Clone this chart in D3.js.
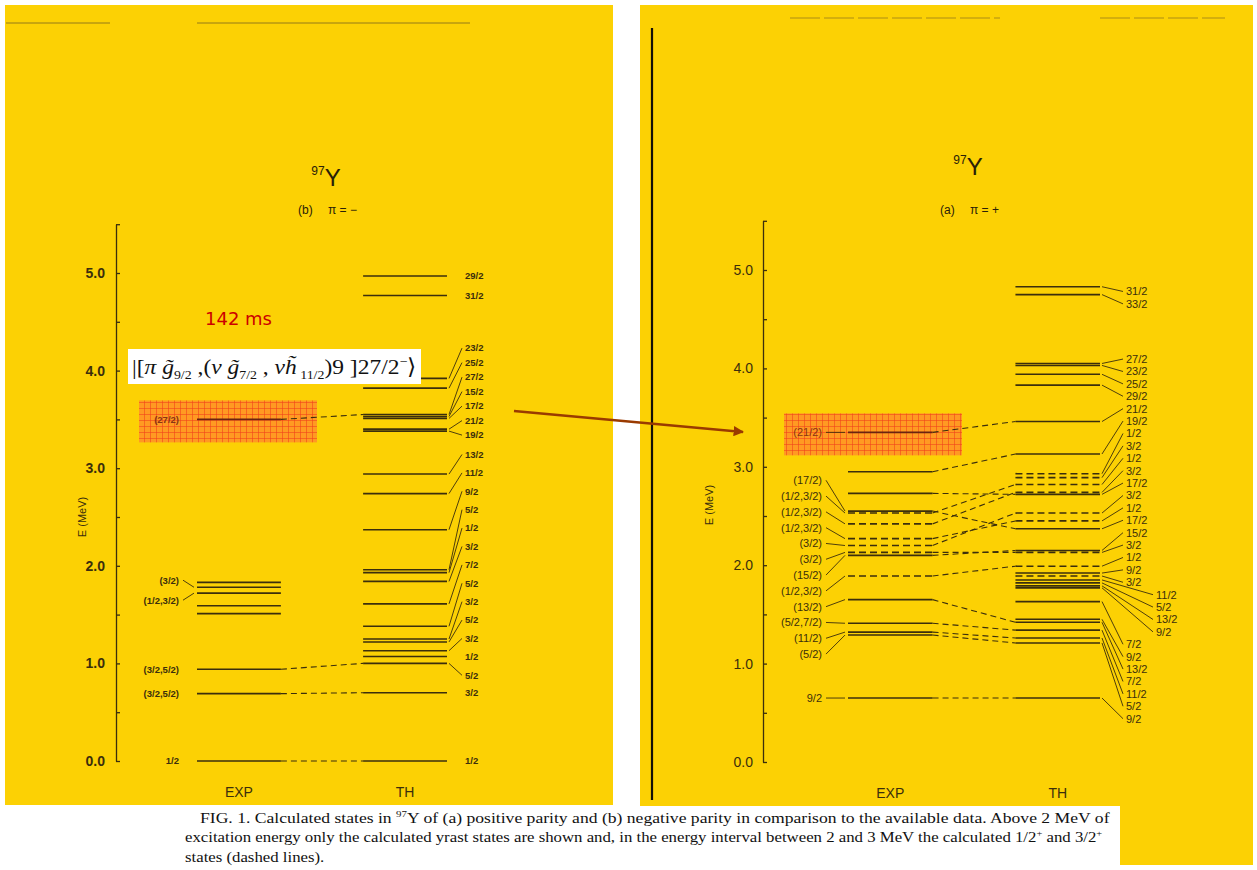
<!DOCTYPE html>
<html>
<head>
<meta charset="utf-8">
<script src="https://cdn.jsdelivr.net/npm/d3@7"></script>
<style>
body { margin: 0; background: #fff; }
svg { display: block; }
.axis path, .axis line { stroke: #3b2e0c; stroke-width: 1.3; }
.axis text { fill: #3b2e0c; font-family: "Liberation Sans", Arial, sans-serif; }
.lvl { stroke: #3b2e0c; stroke-width: 1.6; fill: none; }
.link { stroke: #3b2e0c; stroke-width: 1.1; fill: none; stroke-dasharray: 6,4; }
.lead { stroke: #3b2e0c; stroke-width: 0.9; fill: none; }
.tag { fill: #3b2e0c; font-family: "Liberation Sans", Arial, sans-serif; }
</style>
</head>
<body>
<svg id="chart" width="1257" height="870"></svg>
<script>
// (b) negative parity, energies in MeV
let negExpE = [0, 0.69, 0.94, 1.51, 1.59, 1.72, 1.78, 1.83, 3.50];
let negExpJ = ["1/2", "(3/2,5/2)", "(3/2,5/2)", "", "", "(1/2,3/2)", "(3/2)", "", "(27/2)"];
let negThE = [0, 0.70, 1.00, 1.07, 1.13, 1.22, 1.25, 1.38, 1.61, 1.84, 1.93, 1.96, 2.37, 2.74, 2.94,
              3.38, 3.40, 3.51, 3.53, 3.55, 3.82, 3.92, 4.77, 4.97];
let negThJ = ["1/2", "3/2", "5/2", "1/2", "3/2", "5/2", "3/2", "5/2", "7/2", "3/2", "1/2", "5/2", "9/2", "11/2", "13/2",
              "19/2", "21/2", "17/2", "15/2", "27/2", "25/2", "23/2", "31/2", "29/2"];
let negLinks = [[0, 0], [1, 1], [2, 2], [8, 19]];

// (a) positive parity
let posExpE = [0.65, 1.29, 1.32, 1.41, 1.65, 1.89, 2.10, 2.13, 2.20, 2.27, 2.42, 2.53, 2.55, 2.73, 2.95, 3.35];
let posExpJ = ["9/2", "(5/2)", "(11/2)", "(5/2,7/2)", "(13/2)", "(1/2,3/2)", "(15/2)", "(3/2)", "(3/2)",
               "(1/2,3/2)", "(1/2,3/2)", "(1/2,3/2)", "(17/2)", "", "", "(21/2)"];
let posThE = [0.65, 1.21, 1.26, 1.34, 1.42, 1.45, 1.63, 1.77, 1.79, 1.82, 1.85, 1.89, 1.92, 1.99, 2.13, 2.15,
              2.37, 2.45, 2.53, 2.72, 2.74, 2.82, 2.89, 2.93, 3.13, 3.46, 3.83, 3.94, 4.03, 4.05, 4.75, 4.83];
let posThJ = ["9/2", "5/2", "11/2", "7/2", "13/2", "9/2", "7/2", "9/2", "13/2", "5/2", "11/2", "3/2", "9/2", "1/2",
              "3/2", "15/2", "17/2", "1/2", "3/2", "17/2", "3/2", "1/2", "3/2", "1/2", "19/2", "21/2", "29/2",
              "25/2", "23/2", "27/2", "33/2", "31/2"];
let posLinks = [[0, 0], [1, 1], [2, 2], [3, 3], [4, 4], [5, 13], [6, 15], [7, 14], [8, 18], [9, 17],
                [10, 20], [11, 21], [12, 16], [13, 19], [14, 24], [15, 25]];

let columns = ["EXP", "TH"];
let energyTicks = [0, 0.5, 1, 1.5, 2, 2.5, 3, 3.5, 4, 4.5, 5, 5.5];

let captionLines = [
    ["FIG. 1. Calculated states in ", ["97", "sup"], "Y of (a) positive parity and (b) negative parity in comparison to the available data. Above 2 MeV of"],
    ["excitation energy only the calculated yrast states are shown and, in the energy interval between 2 and 3 MeV the calculated 1/2", ["+", "sup"], " and 3/2", ["+", "sup"]],
    ["states (dashed lines)."]
];

const ink = "#3b2e0c",
    yellow = "#FCD104";

let svg = d3.select("#chart");

let defs = svg.append("defs");
let pat = defs.append("pattern")
    .attr("id", "grid")
    .attr("width", 6).attr("height", 6)
    .attr("patternUnits", "userSpaceOnUse");
pat.append("rect").attr("width", 6).attr("height", 6).attr("fill", "#FF9A22");
pat.append("path").attr("d", "M0,0.3H6M0.3,0V6").attr("stroke", "#F03E1A").attr("stroke-width", 0.7);
defs.append("marker")
    .attr("id", "head")
    .attr("viewBox", "0 0 10 10")
    .attr("refX", 9).attr("refY", 5)
    .attr("markerWidth", 4).attr("markerHeight", 4)
    .attr("orient", "auto")
    .append("path").attr("d", "M0,0L10,5L0,10z").attr("fill", "#9A3A00");

// page backgrounds
svg.append("rect").attr("x", 5).attr("y", 5).attr("width", 608).attr("height", 800).attr("fill", yellow);
svg.append("rect").attr("x", 640).attr("y", 5).attr("width", 613).attr("height", 860).attr("fill", yellow);

// scan marks
svg.append("path").attr("d", "M652,28V800").attr("stroke", "#141008").attr("stroke-width", 2.2);
svg.append("path").attr("d", "M6,23H110M197,23H470").attr("stroke", "#7a6420").attr("stroke-width", 0.8);
svg.append("path").attr("d", "M790,18H1000M1100,18H1225").attr("stroke", "#8a7020").attr("stroke-width", 0.7)
    .attr("stroke-dasharray", "30,4");

function lowSpin(j) {
    let s = j.replace(/[()]/g, "").split(",");
    return j !== "" && s.every(v => v === "1/2" || v === "3/2");
}

// spread overlapping labels; anchor 0 centres a cluster on its targets, 1 pins it to its lowest one
function dodge(items, gap, anchor, shift) {
    let clusters = [];
    let place = c => {
        let n = c.items.length,
            centred = c.sum / n - (n - 1) * gap / 2,
            pinned = c.items[n - 1].y - (n - 1) * gap;
        c.top = (1 - anchor) * centred + anchor * pinned;
    };
    items.forEach(t => {
        clusters.push({items: [t], sum: t.y, top: t.y});
        while(clusters.length > 1) {
            let a = clusters[clusters.length - 2],
                b = clusters[clusters.length - 1];
            if(a.top + a.items.length * gap <= b.top) break;
            a.items = a.items.concat(b.items);
            a.sum += b.sum;
            place(a);
            clusters.pop();
        }
    });
    clusters.forEach(c => {
        c.items.forEach((t, i) => {
            t.tagY = c.top + i * gap + (c.items.length > 1 ? shift : 0);
        });
    });
}

let panels = [
    {expE: negExpE, expJ: negExpJ, thE: negThE, thJ: negThJ, links: negLinks,
     y0: 761, y5: 273, axisX: 116, xRange: [197, 447], tickPad: 11, bold: true,
     expTagX: 179, thTagX: 465, outerTagX: 0, outer: [], tagSize: 9.5,
     expGap: 20, thBands: [{below: 3.2, gap: 18.4, anchor: 0.75, shift: 2}, {below: 9, gap: 14.5, anchor: 1, shift: 4}],
     leadAlways: false, dashLow: false,
     titleX: 326, titleY: 186, part: "(b)", parity: "\u03c0 = \u2212", labelX: 86, labelY: 517,
     hiIndex: 8, hiX: [139, 317], foot: 797},
    {expE: posExpE, expJ: posExpJ, thE: posThE, thJ: posThJ, links: posLinks,
     y0: 762, y5: 270, axisX: 763, xRange: [848, 1100], tickPad: 10, bold: false,
     expTagX: 822, thTagX: 1126, outerTagX: 1156, outer: [7, 8, 9, 10], tagSize: 11,
     expGap: 15.8, thBands: [{below: 9, gap: 12.4, anchor: 0, shift: 7}],
     leadAlways: true, dashLow: true,
     titleX: 968, titleY: 175, part: "(a)", parity: "\u03c0 = +", labelX: 713, labelY: 505,
     hiIndex: 15, hiX: [784, 962], foot: 798}
];

function drawPanel(p) {
    let g = svg.append("g");

    let y = d3.scaleLinear().domain([0, 5]).range([p.y0, p.y5]);
    let x = d3.scaleBand().domain(columns).range(p.xRange).paddingInner(0.495);
    let axisScale = y.copy().domain([0, 5.5]).range([y(0), y(5.5)]);

    let exp = p.expE.map((e, i) => ({e: e, j: p.expJ[i], y: y(e), i: i})),
        th = p.thE.map((e, i) => ({e: e, j: p.thJ[i], y: y(e), i: i}));

    // highlighted isomer, under the levels
    let hy = exp[p.hiIndex].y;
    g.append("rect")
        .attr("x", p.hiX[0]).attr("y", hy - 19)
        .attr("width", p.hiX[1] - p.hiX[0]).attr("height", 42)
        .attr("fill", "url(#grid)");

    let ax = g.append("g")
        .attr("class", "axis")
        .attr("transform", "translate(" + p.axisX + ",0)")
        .call(d3.axisLeft(axisScale)
            .tickValues(energyTicks)
            .tickSizeInner(-4)
            .tickSizeOuter(0)
            .tickPadding(p.tickPad)
            .tickFormat(d => d.toFixed(1)));
    ax.selectAll(".tick text")
        .filter(d => d % 1 !== 0)
        .remove();
    ax.selectAll("text")
        .attr("font-size", 14)
        .attr("font-weight", p.bold ? "bold" : "normal");

    g.append("text")
        .attr("transform", "translate(" + p.labelX + "," + p.labelY + ") rotate(-90)")
        .attr("text-anchor", "middle")
        .attr("font-family", "Liberation Sans, Arial, sans-serif")
        .attr("font-size", 11)
        .attr("fill", ink)
        .text("E (MeV)");

    // titles
    let t = g.append("text")
        .attr("x", p.titleX).attr("y", p.titleY)
        .attr("text-anchor", "middle")
        .attr("font-family", "Liberation Sans, Arial, sans-serif")
        .attr("fill", "#2a2008");
    t.append("tspan").attr("font-size", 12).attr("dy", -11).text("97");
    t.append("tspan").attr("font-size", 24).attr("dy", 11).text("Y");
    g.append("text")
        .attr("x", p.titleX - 28).attr("y", 214)
        .attr("font-family", "Liberation Sans, Arial, sans-serif")
        .attr("font-size", 12).attr("fill", "#2a2008")
        .text(p.part);
    g.append("text")
        .attr("x", p.titleX + 2).attr("y", 214)
        .attr("font-family", "Liberation Sans, Arial, sans-serif")
        .attr("font-size", 12).attr("fill", "#2a2008")
        .text(p.parity);

    g.selectAll(".foot")
        .data(columns)
        .enter()
        .append("text")
        .attr("x", d => x(d) + x.bandwidth() / 2)
        .attr("y", p.foot)
        .attr("text-anchor", "middle")
        .attr("font-family", "Liberation Sans, Arial, sans-serif")
        .attr("font-size", 14)
        .attr("fill", ink)
        .text(d => d);

    let dashed = d => p.dashLow && lowSpin(d.j) && d.e >= 1.85 && d.e <= 3;

    let xe0 = x("EXP"), xe1 = xe0 + x.bandwidth(),
        xt0 = x("TH"), xt1 = xt0 + x.bandwidth();

    // connecting lines
    g.selectAll(".link")
        .data(p.links)
        .enter()
        .append("path")
        .attr("class", "link")
        .attr("d", d => "M" + xe1 + "," + exp[d[0]].y + "L" + xt0 + "," + th[d[1]].y);

    g.selectAll(".lvlE")
        .data(exp)
        .enter()
        .append("path")
        .attr("class", "lvl")
        .style("stroke", d => d.i === p.hiIndex ? "#6a2410" : null)
        .attr("d", d => "M" + xe0 + "," + d.y + "H" + xe1)
        .attr("stroke-dasharray", d => dashed(d) ? "7,4" : null);

    g.selectAll(".lvlT")
        .data(th)
        .enter()
        .append("path")
        .attr("class", "lvl")
        .attr("d", d => "M" + xt0 + "," + d.y + "H" + xt1)
        .attr("stroke-dasharray", d => dashed(d) ? "7,4" : null);

    // experimental spin labels
    let expTags = exp.filter(d => d.j).sort((a, b) => a.y - b.y);
    dodge(expTags, p.expGap, 0, 0);
    expTags.forEach(d => {
        if(p.leadAlways || Math.abs(d.tagY - d.y) > 1) {
            g.append("path")
                .attr("class", "lead")
                .attr("d", "M" + (p.expTagX + 4) + "," + d.tagY + "L" + (xe0 - 3) + "," + d.y);
        }
        g.append("text")
            .attr("class", "tag")
            .attr("x", p.expTagX).attr("y", d.tagY)
            .attr("dy", "0.35em")
            .attr("text-anchor", "end")
            .attr("font-size", p.tagSize)
            .attr("font-weight", p.bold ? "bold" : "normal")
            .style("fill", d.i === p.hiIndex ? "#8a3414" : null)
            .text(d.j);
    });

    // calculated spin labels
    let thTags = th.filter(d => d.j).sort((a, b) => a.y - b.y);
    let lo = -Infinity;
    p.thBands.forEach(b => {
        let part = thTags.filter(d => d.e >= lo && d.e < b.below);
        dodge(part, b.gap, b.anchor, b.shift);
        lo = b.below;
    });
    thTags.forEach(d => {
        let tx = p.outer.includes(d.i) ? p.outerTagX : p.thTagX;
        if(p.leadAlways || Math.abs(d.tagY - d.y) > 1) {
            g.append("path")
                .attr("class", "lead")
                .attr("d", "M" + (xt1 + 2) + "," + d.y + "L" + (tx - 3) + "," + d.tagY);
        }
        g.append("text")
            .attr("class", "tag")
            .attr("x", tx).attr("y", d.tagY)
            .attr("dy", "0.35em")
            .attr("font-size", p.tagSize)
            .attr("font-weight", p.bold ? "bold" : "normal")
            .text(d.j);
    });

    return y;
}

panels.forEach(drawPanel);

// annotation: isomer and configuration
svg.append("text")
    .attr("x", 205).attr("y", 325)
    .attr("font-family", "DejaVu Sans, sans-serif")
    .attr("font-size", 18)
    .attr("fill", "#CC0000")
    .text("142 ms");

svg.append("rect")
    .attr("x", 128).attr("y", 349)
    .attr("width", 293).attr("height", 35)
    .attr("fill", "#fff");

let formula = [
    ["|[", ""], ["\u03c0", "i"], [" g\u0303", "i"], ["9/2", "sub"], [" ,(", ""], ["\u03bd", "i"],
    [" g\u0303", "i"], ["7/2", "sub"], [" , ", ""], ["\u03bd", "i"], ["h\u0303", "i"], [" 11/2", "sub"],
    [")9 ]27/2", ""], ["\u2212", "sup"], ["\u27e9", ""]
];
let ft = svg.append("text")
    .attr("font-family", "Liberation Serif, Times New Roman, serif")
    .attr("font-size", 22)
    .attr("fill", "#111");
let shiftNow = 0;
formula.forEach(f => {
    let target = f[1] === "sub" ? 5 : f[1] === "sup" ? -8 : 0;
    ft.append("tspan")
        .attr("dy", target - shiftNow)
        .attr("font-size", f[1] === "sub" || f[1] === "sup" ? 13 : 22)
        .attr("font-style", f[1] === "i" ? "italic" : "normal")
        .text(f[0]);
    shiftNow = target;
});
let fw = ft.node().getBBox().width;
ft.attr("transform", "translate(132,374) scale(" + (285 / fw) + ",1)");

svg.append("path")
    .attr("d", "M514,411L743,432")
    .attr("stroke", "#9A3A00")
    .attr("stroke-width", 2.6)
    .attr("marker-end", "url(#head)");

// caption
svg.append("rect")
    .attr("x", 182).attr("y", 806)
    .attr("width", 938).attr("height", 64)
    .attr("fill", "#fff");

let capX = [200, 185, 185],
    capY = [823, 842, 862],
    capW = [910, 918, 0],
    capScale = 1;
captionLines.forEach((line, k) => {
    let ct = svg.append("text")
        .attr("font-family", "Liberation Serif, Times New Roman, serif")
        .attr("font-size", 14.5)
        .attr("fill", "#111");
    let raised = false;
    line.forEach(part => {
        if(typeof part === "string") {
            ct.append("tspan").attr("dy", raised ? 6 : null).text(part);
            raised = false;
        } else {
            ct.append("tspan").attr("font-size", 9).attr("dy", -6).text(part[0]);
            raised = true;
        }
    });
    if(capW[k]) capScale = capW[k] / ct.node().getBBox().width;
    ct.attr("transform", "translate(" + capX[k] + "," + capY[k] + ") scale(" + capScale + ",1)");
});
</script>
</body>
</html>
